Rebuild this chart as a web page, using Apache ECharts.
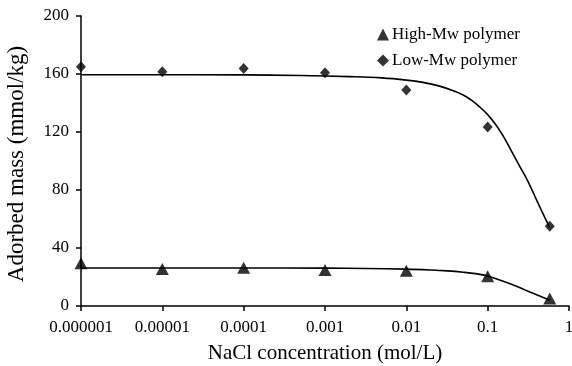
<!DOCTYPE html>
<html>
<head>
<meta charset="utf-8">
<script src="https://cdn.jsdelivr.net/npm/echarts@6/dist/echarts.min.js"></script>
<style>
  html, body { margin: 0; padding: 0; background: #fff; }
  #chart { width: 572px; height: 366px; }
</style>
</head>
<body>
<div id="chart"></div>
<script>
// measured points [NaCl mol/L, mmol/kg]
const highMw = [[1e-6, 29.5], [1e-5, 25.5], [1e-4, 26.3], [1e-3, 24.8], [0.01, 24.3], [0.1, 20.5], [0.58, 5.2]];
const lowMw = [[1e-6, 165], [1e-5, 161.5], [1e-4, 163.8], [1e-3, 160.8], [0.01, 149], [0.1, 123.5], [0.58, 55]];

// fitted curves
const highFit = [[1e-6, 26.2], [1e-4, 26.2], [0.001, 26.1], [0.0032, 25.9], [0.01, 25.4], [0.02, 24.8], [0.032, 24.2], [0.05, 23.3], [0.071, 22.3], [0.1, 20.7], [0.141, 17.9], [0.2, 14.8], [0.282, 11.3], [0.4, 7.7], [0.58, 4]];
const lowFit = [[1e-6, 159.5], [1e-4, 159.4], [5e-4, 159], [0.002, 158.2], [0.005, 157.3], [0.01, 155.8], [0.016, 154.2], [0.025, 151.8], [0.04, 148], [0.05, 145.5], [0.063, 142], [0.079, 137.5], [0.1, 132], [0.126, 125], [0.158, 116.5], [0.2, 106], [0.25, 96], [0.316, 85.5], [0.4, 73], [0.5, 61.5], [0.58, 54]];

const xTickLabels = { "-6": "0.000001", "-5": "0.00001", "-4": "0.0001", "-3": "0.001", "-2": "0.01", "-1": "0.1", "0": "1" };

const font = "'Liberation Serif', 'DejaVu Serif', serif";

const chart = echarts.init(document.getElementById("chart"), null, { renderer: "canvas" });

chart.setOption({
	animation: false,
	textStyle: { fontFamily: font, color: "#000" },
	grid: { left: 81, right: 3, top: 16, bottom: 60, outerBoundsMode: "none", containLabel: false },
	legend: {
		orient: "vertical",
		left: 372,
		top: 21,
		itemGap: 9,
		itemWidth: 12,
		itemHeight: 12,
		data: [
			{ name: "High-Mw polymer", icon: "triangle" },
			{ name: "Low-Mw polymer", icon: "diamond" },
		],
		textStyle: { fontFamily: font, fontSize: 17, color: "#000", padding: [0, 0, 0, -2] },
	},
	xAxis: {
		type: "log",
		logBase: 10,
		min: 1e-6,
		max: 1,
		name: "NaCl concentration (mol/L)",
		nameLocation: "middle",
		nameGap: 37,
		nameTextStyle: { fontFamily: font, fontSize: 21, color: "#000" },
		axisLine: { lineStyle: { color: "#000", width: 1.5 } },
		axisTick: { show: true, length: 5, lineStyle: { color: "#000", width: 1.5 } },
		axisLabel: {
			fontFamily: font,
			fontSize: 17,
			color: "#000",
			margin: 13,
			formatter: (v) => xTickLabels[String(Math.round(Math.log10(v)))] || "",
		},
		minorTick: { show: false },
		splitLine: { show: false },
	},
	yAxis: {
		type: "value",
		min: 0,
		max: 200,
		interval: 40,
		name: "Adorbed mass (mmol/kg)",
		nameLocation: "middle",
		nameGap: 53,
		nameTextStyle: { fontFamily: font, fontSize: 23, color: "#000", padding: [0, 0, 0, -6] },
		axisLine: { show: true, lineStyle: { color: "#000", width: 1.5 } },
		axisTick: { show: true, length: 5, lineStyle: { color: "#000", width: 1.5 } },
		axisLabel: { fontFamily: font, fontSize: 17, color: "#000", margin: 12 },
		splitLine: { show: false },
	},
	series: [
		{
			name: "High-Mw fit",
			type: "line",
			data: highFit,
			smooth: 0.4,
			showSymbol: false,
			lineStyle: { color: "#000", width: 1.6 },
			z: 1,
		},
		{
			name: "Low-Mw fit",
			type: "line",
			data: lowFit,
			smooth: 0.4,
			showSymbol: false,
			lineStyle: { color: "#000", width: 1.6 },
			z: 1,
		},
		{
			name: "High-Mw polymer",
			type: "scatter",
			data: highMw,
			symbol: "triangle",
			symbolSize: [13, 12],
			itemStyle: { color: "#000" },
			z: 3,
		},
		{
			name: "Low-Mw polymer",
			type: "scatter",
			data: lowMw,
			symbol: "diamond",
			symbolSize: [10, 11],
			itemStyle: { color: "#000" },
			z: 3,
		},
	],
});
</script>
</body>
</html>
